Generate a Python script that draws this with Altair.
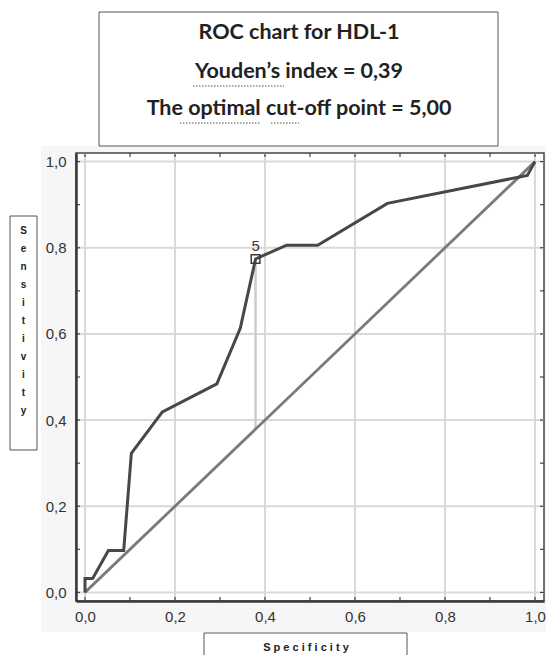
import altair as alt
import pandas as pd

# ---- data ----
fpr = [0.0, 0.0, 0.017, 0.052, 0.086, 0.103, 0.172, 0.293, 0.345, 0.379, 0.448, 0.517, 0.672, 0.983, 1.0]
tpr = [0.0, 0.032, 0.032, 0.097, 0.097, 0.323, 0.419, 0.484, 0.613, 0.774, 0.806, 0.806, 0.903, 0.968, 1.0]
diag_x = [0.0, 1.0]
diag_y = [0.0, 1.0]
cut_x = [0.379]
cut_y = [0.774]
cut_base = [0.379]
cut_label = ["5"]
grid_vals = [0.0, 0.2, 0.4, 0.6, 0.8, 1.0]
tick_vals = [0.0, 0.1, 0.2, 0.3, 0.4, 0.5, 0.6, 0.7, 0.8, 0.9, 1.0]
title_lines = ["ROC chart for HDL-1", "Youden\u2019s index = 0,39", "The optimal cut-off point = 5,00"]
y_title = list("Sensitivity")
x_title = "S p e c i f i c i t y"

# plot-area origin on the page and size
OX, OY = 76, 153
W, H = 468, 448
DOM = [-0.02, 1.02]


def px(v):
    return v - OX


def py(v):
    return v - OY


roc = pd.DataFrame({"x": fpr, "y": tpr, "i": list(range(len(fpr)))})
diag = pd.DataFrame({"x": diag_x, "y": diag_y})
cut = pd.DataFrame({"x": cut_x, "y": cut_y, "y0": cut_base, "lab": cut_label})
grid = pd.DataFrame({"v": grid_vals})
ticks = pd.DataFrame({"v": tick_vals})
one = pd.DataFrame({"a": [0]})

lab_expr = "replace(format(datum.value, '.1f'), '.', ',')"
xs = alt.Scale(domain=DOM, nice=False, zero=False)
ys = alt.Scale(domain=DOM, nice=False, zero=False)
ax_x = alt.Axis(values=grid_vals, labelExpr=lab_expr, grid=False, ticks=False, domain=True,
                domainColor="#3a3a3a", domainWidth=2.5, labelFont="Liberation Sans", labelFontSize=15,
                labelColor="#333333", labelPadding=8, labelFlush=False, title=None, zindex=1)
ax_y = alt.Axis(values=grid_vals, labelExpr=lab_expr, grid=False, ticks=False, domain=True,
                domainColor="#3a3a3a", domainWidth=2.5, labelFont="Liberation Sans", labelFontSize=15,
                labelColor="#333333", labelPadding=10, title=None, zindex=1)


def XF(f):
    return alt.X(f, scale=xs, axis=ax_x)


def YF(f):
    return alt.Y(f, scale=ys, axis=ax_y)


base = alt.Chart(one)

grey = base.mark_rect(color="#f6f6f6").encode(
    x=alt.value(px(41)), x2=alt.value(px(560)), y=alt.value(py(146)), y2=alt.value(py(632)))
white = base.mark_rect(fill="white", stroke="#444444", strokeWidth=1.5).encode(
    x=alt.value(0), x2=alt.value(W), y=alt.value(0), y2=alt.value(H))

gx = alt.Chart(grid).mark_rule(color="#d9d9d9", strokeWidth=2).encode(
    x=XF("v:Q"), y=alt.value(0), y2=alt.value(H))
gy = alt.Chart(grid).mark_rule(color="#d9d9d9", strokeWidth=2).encode(
    y=YF("v:Q"), x=alt.value(0), x2=alt.value(W))

tb = alt.Chart(ticks).mark_rule(color="#444444", strokeWidth=1.2).encode(
    x=XF("v:Q"), y=alt.value(H), y2=alt.value(H - 4))
tt = alt.Chart(ticks).mark_rule(color="#444444", strokeWidth=1.2).encode(
    x=XF("v:Q"), y=alt.value(0), y2=alt.value(4))
tl = alt.Chart(ticks).mark_rule(color="#444444", strokeWidth=1.2).encode(
    y=YF("v:Q"), x=alt.value(0), x2=alt.value(4))
tr = alt.Chart(ticks).mark_rule(color="#444444", strokeWidth=1.2).encode(
    y=YF("v:Q"), x=alt.value(W), x2=alt.value(W - 4))

cutline = alt.Chart(cut).mark_rule(color="#cccccc", strokeWidth=2.5).encode(
    x=XF("x:Q"), y=YF("y0:Q"), y2="y:Q")

diagl = alt.Chart(diag).mark_line(color="#7a7a7a", strokeWidth=2.8).encode(x=XF("x:Q"), y=YF("y:Q"))
rocl = alt.Chart(roc).mark_line(color="#474747", strokeWidth=3).encode(
    x=XF("x:Q"), y=YF("y:Q"), order="i:Q")
sq = alt.Chart(cut).mark_point(shape="square", filled=False, size=75, color="#3a3a3a",
                               strokeWidth=1.5, opacity=1).encode(x=XF("x:Q"), y=YF("y:Q"))
sqlab = alt.Chart(cut).mark_text(dy=-13, fontSize=15, font="Liberation Sans", color="#333333").encode(
    x=XF("x:Q"), y=YF("y:Q"), text="lab:N")

# title box
tbox = base.mark_rect(fill="white", stroke="#555555", strokeWidth=1).encode(
    x=alt.value(px(99)), x2=alt.value(px(498)), y=alt.value(py(12)), y2=alt.value(py(146)))
tdf = pd.DataFrame({"t": title_lines, "yy": [py(39), py(78), py(115)]})
ttext = alt.Chart(tdf).mark_text(font="Lato", fontWeight="bold", fontSize=21.5, color="#222222",
                                 baseline="alphabetic").encode(
    x=alt.value(px(299)), y=alt.Y("yy:Q", scale=None, axis=None), text="t:N")

# squiggle underlines (spell-check marks)
sqdf = pd.DataFrame({"x1": [px(193), px(180), px(271)], "x2": [px(284), px(260), px(299)],
                     "yy": [py(86), py(123), py(123)]})
squig = alt.Chart(sqdf).mark_rule(color="#8a8a8a", strokeWidth=1.5, strokeDash=[1.5, 1.5]).encode(
    x=alt.X("x1:Q", scale=None, axis=None), x2="x2:Q", y=alt.Y("yy:Q", scale=None, axis=None))

# y title box
ybox = base.mark_rect(fill="white", stroke="#555555", strokeWidth=1).encode(
    x=alt.value(px(10)), x2=alt.value(px(37)), y=alt.value(py(216)), y2=alt.value(py(450)))
ytext = base.mark_text(text=y_title, font="Liberation Sans", fontWeight="bold", fontSize=10,
                       lineHeight=18, baseline="top", color="#222222").encode(
    x=alt.value(px(23.5)), y=alt.value(py(226)))

# x title box
xbox = base.mark_rect(fill="white", stroke="#555555", strokeWidth=1).encode(
    x=alt.value(px(204)), x2=alt.value(px(407)), y=alt.value(py(633)), y2=alt.value(py(700)))
xtext = base.mark_text(text=x_title, font="Liberation Sans", fontWeight="bold", fontSize=11,
                       color="#222222").encode(x=alt.value(px(306)), y=alt.value(py(648)))

chart = alt.layer(
    grey, white, gx, gy, tb, tt, tl, tr, cutline, diagl, rocl, sq, sqlab,
    tbox, ttext, squig, ybox, ytext, xbox, xtext
).properties(
    width=W, height=H,
    autosize=alt.AutoSizeParams(type="none"),
    padding={"left": OX - 8, "top": OY - 8, "right": 2, "bottom": 54},
).configure_view(stroke=None).configure(background="white")

chart.save("out.html", embed_options={"renderer": "svg", "actions": False})
